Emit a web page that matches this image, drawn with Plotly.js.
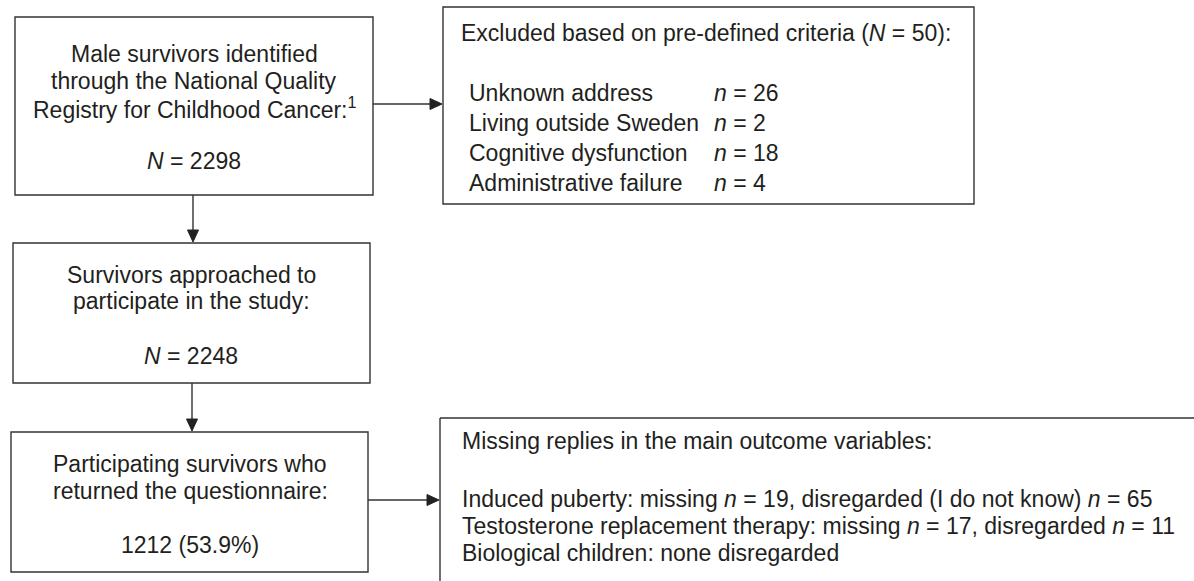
<!DOCTYPE html>
<html>
<head>
<meta charset="utf-8">
<script src="https://cdn.plot.ly/plotly-3.0.1.min.js"></script>
<style>html,body{margin:0;padding:0;background:#fff;}#chart{width:1194px;height:581px;}</style>
</head>
<body>
<div id="chart"></div>
<script>
// ---- data ----
const identifiedLines = ["Male survivors identified", "through the National Quality", "Registry for Childhood Cancer:<sup>1</sup>"];
const identifiedN = 2298;
const excludedHeading = "Excluded based on pre-defined criteria";
const excludedLabels = ["Unknown address", "Living outside Sweden", "Cognitive dysfunction", "Administrative failure"];
const excludedCounts = [26, 2, 18, 4];
const approachedLines = ["Survivors approached to", "participate in the study:"];
const approachedN = 2248;
const participantLines = ["Participating survivors who", "returned the questionnaire:"];
const participantsN = 1212;
const participantsPct = 53.9;
const missingHeading = "Missing replies in the main outcome variables:";
const outcomeNames = ["Induced puberty", "Testosterone replacement therapy", "Biological children"];
const outcomeMissing = [19, 17, null];
const outcomeDisregarded = [65, 11, null];
const outcomeDisregardNote = [" (I do not know)", "", ""];

// ---- drawing ----
const W = 1194, H = 581;
const FONT = {family: "Liberation Sans, Arial, sans-serif", size: 23, color: "#231f20"};
const LINE = {color: "#333333", width: 1.4};
const shapes = [];
const annotations = [];

function box(x0, y0, x1, y1) {
  shapes.push({type: "rect", xref: "x", yref: "y", x0, y0, x1, y1, line: LINE, fillcolor: "rgba(0,0,0,0)"});
}
function seg(x0, y0, x1, y1) {
  shapes.push({type: "line", xref: "x", yref: "y", x0, y0, x1, y1, line: LINE});
}
function arrow(x0, y0, x1, y1) {
  const L = 12, hw = 5.5;
  const dx = x1 - x0, dy = y1 - y0, len = Math.hypot(dx, dy);
  const ux = dx / len, uy = dy / len;
  const bx = x1 - ux * L, by = y1 - uy * L;
  seg(x0, y0, bx, by);
  const px = -uy * hw, py = ux * hw;
  shapes.push({type: "path", xref: "x", yref: "y",
    path: `M ${bx + px},${by + py} L ${x1},${y1} L ${bx - px},${by - py} Z`,
    fillcolor: "#222", line: {color: "#222", width: 1}});
}
function text(t, x, y, anchor) {
  annotations.push({text: t, x, y, xref: "x", yref: "y", showarrow: false,
    xanchor: anchor || "center", yanchor: "middle", font: FONT, align: anchor || "center"});
}

// Box 1
box(15, 17, 373, 195);
const b1y = [54, 81, 108];
identifiedLines.forEach((l, i) => text(l, 194, b1y[i]));
text(`<i>N</i> = ${identifiedN}`, 194, 161);

// Box 2
box(443, 7, 974, 204);
const excludedTotal = excludedCounts.reduce((a, b) => a + b, 0);
text(`${excludedHeading} (<i>N</i> = ${excludedTotal}):`, 459, 33, "left");
const b2y = [93, 123, 153, 183];
excludedLabels.forEach((l, i) => {
  text(l, 467, b2y[i], "left");
  text(`<i>n</i> = ${excludedCounts[i]}`, 712, b2y[i], "left");
});

// Box 3
box(13, 243, 370, 383);
const b3y = [275, 301];
approachedLines.forEach((l, i) => text(l, 191, b3y[i]));
text(`<i>N</i> = ${approachedN}`, 191, 356);

// Box 4
box(11, 432, 368, 572);
const b4y = [464, 491];
participantLines.forEach((l, i) => text(l, 190, b4y[i]));
text(`${participantsN} (${participantsPct.toFixed(1)}%)`, 190, 545);

// Box 5 (open on right and bottom)
seg(440, 418, 1194, 418);
seg(440, 418, 440, 581);
text(missingHeading, 460, 441, "left");
const b5y = [499, 526, 553];
outcomeNames.forEach((name, i) => {
  let s;
  if (outcomeMissing[i] === null) {
    s = `${name}: none disregarded`;
  } else {
    s = `${name}: missing <i>n</i> = ${outcomeMissing[i]}, disregarded${outcomeDisregardNote[i]} <i>n</i> = ${outcomeDisregarded[i]}`;
  }
  text(s, 460, b5y[i], "left");
});

// Arrows
arrow(373, 104, 442, 104);
arrow(193, 195, 193, 242);
arrow(192, 383, 192, 431);
arrow(368, 500, 439, 500);

const layout = {
  width: W, height: H,
  margin: {l: 0, r: 0, t: 0, b: 0},
  paper_bgcolor: "#ffffff", plot_bgcolor: "#ffffff",
  xaxis: {range: [0, W], visible: false, fixedrange: true},
  yaxis: {range: [H, 0], visible: false, fixedrange: true},
  showlegend: false,
  shapes, annotations
};
Plotly.newPlot("chart", [], layout, {staticPlot: true, displayModeBar: false});
</script>
</body>
</html>
